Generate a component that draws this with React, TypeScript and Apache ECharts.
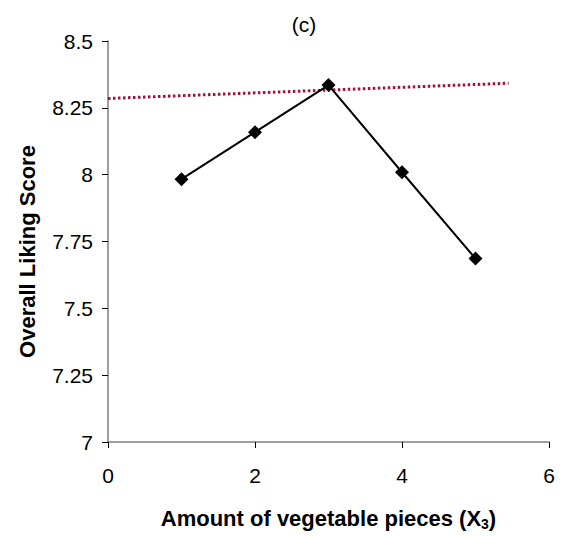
import React, { useEffect, useRef } from "react";
import * as echarts from "echarts";

const xValues = [1, 2, 3, 4, 5];
const scores = [7.983, 8.159, 8.335, 8.009, 7.686];
const refLineX = [0, 5.45];
const refLineY = [8.285, 8.342];
const yTicks = [7, 7.25, 7.5, 7.75, 8, 8.25, 8.5];

export default function App() {
  const ref = useRef<HTMLDivElement>(null);
  useEffect(() => {
    document.body.style.margin = "0";
    const chart = echarts.init(ref.current!, null, { renderer: "svg" });
    const font = "Liberation Sans, Arial, sans-serif";
    chart.setOption({
      animation: false,
      backgroundColor: "#ffffff",
      title: {
        text: "(c)",
        left: 299,
        top: 9,
        textAlign: "center",
        textStyle: { fontFamily: font, fontSize: 21, fontWeight: "normal", color: "#000" },
      },
      grid: { left: 108, right: 17, top: 41, bottom: 95, containLabel: false, outerBoundsMode: "none" },
      xAxis: {
        type: "value",
        min: 0,
        max: 6,
        interval: 2,
        name: "Amount of vegetable pieces (X{sub|3})",
        nameLocation: "middle",
        nameGap: 64,
        nameTextStyle: {
          fontFamily: font,
          fontSize: 22,
          fontWeight: "bold",
          color: "#000",
          rich: {
            sub: { fontFamily: font, fontSize: 14, fontWeight: "bold", color: "#000", verticalAlign: "bottom", padding: [11, 0, 0, 0] },
          },
        },
        axisLine: { show: true, onZero: false, lineStyle: { color: "#808080", width: 1.5 } },
        axisTick: { show: true, inside: false, length: 6, lineStyle: { color: "#000", width: 1 } },
        axisLabel: { fontFamily: font, fontSize: 21, color: "#000", margin: 23 },
        splitLine: { show: false },
      },
      yAxis: {
        type: "value",
        min: 7,
        max: 8.5,
        interval: 0.25,
        name: "Overall Liking Score",
        nameLocation: "middle",
        nameGap: 70,
        nameTextStyle: { fontFamily: font, fontSize: 22, fontWeight: "bold", color: "#000", padding: [0, 20, 0, 0] },
        axisLine: { show: true, onZero: false, lineStyle: { color: "#808080", width: 1.5 } },
        axisTick: { show: true, inside: false, length: 6, lineStyle: { color: "#000", width: 1 } },
        axisLabel: {
          fontFamily: font,
          fontSize: 21,
          color: "#000",
          margin: 15,
          formatter: (v: number) => {
            const t = yTicks.find((k) => Math.abs(k - v) < 1e-6);
            return t === undefined ? "" : String(t);
          },
        },
        splitLine: { show: false },
      },
      series: [
        {
          type: "line",
          data: refLineX.map((x, i) => [x, refLineY[i]]),
          showSymbol: false,
          symbol: "none",
          lineStyle: { color: "#a0103a", width: 3, type: [2.5, 2.5] },
          z: 1,
        },
        {
          type: "line",
          data: xValues.map((x, i) => [x, scores[i]]),
          symbol: "diamond",
          symbolSize: 14,
          itemStyle: { color: "#000" },
          lineStyle: { color: "#000", width: 2 },
          z: 2,
        },
      ],
    });
    return () => chart.dispose();
  }, []);
  return <div ref={ref} style={{ width: 566, height: 537 }} />;
}
